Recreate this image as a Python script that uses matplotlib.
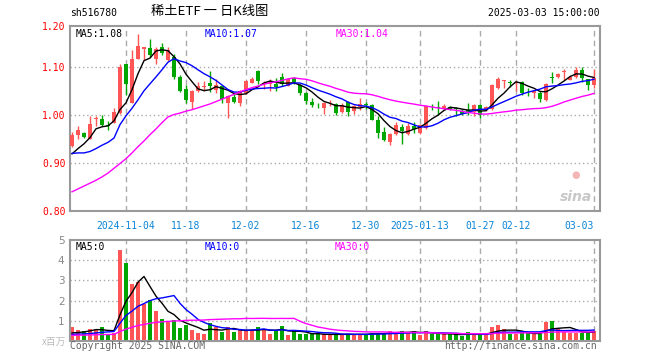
import numpy as np
import pandas as pd
import matplotlib
matplotlib.use("Agg")
import matplotlib.pyplot as plt

# ---- data ----
holidays = ['2025-01-01', '2025-01-28', '2025-01-29', '2025-01-30',
            '2025-01-31', '2025-02-03', '2025-02-04']
dates = pd.bdate_range('2024-10-22', '2025-03-03')
dates = dates[~dates.isin(pd.to_datetime(holidays))]

opens = [0.935, 0.959, 0.9625, 0.951, 0.992, 0.991, 0.980, 0.984, 1.004, 1.106,
         1.025, 1.117, 1.137, 1.140, 1.117, 1.142, 1.114, 1.121, 1.079, 1.055,
         1.027, 1.051, 1.058, 1.067, 1.053, 1.060, 1.024, 1.0375, 1.025, 1.046,
         1.067, 1.092, 1.064, 1.065, 1.065, 1.079, 1.060, 1.077, 1.062, 1.046,
         1.027, 1.0215, 1.015, 1.024, 1.022, 1.006, 1.027, 1.008, 1.017, 1.022,
         1.020, 0.989, 0.9645, 0.944, 0.961, 0.976, 0.961, 0.977, 0.9625, 0.973,
         1.016, 1.016, 1.012, 1.0167, 1.014, 1.0076, 1.0097, 1.006, 1.020, 1.0097,
         1.013, 1.056, 1.0715, 1.069, 1.067, 1.069, 1.047, 1.0465, 1.0465, 1.032,
         1.080, 1.079, 1.0896, 1.0736, 1.079, 1.093, 1.074, 1.063]
highs = [0.965, 0.978, 0.965, 0.997, 0.997, 1.001, 0.987, 1.015, 1.106, 1.106,
         1.136, 1.169, 1.142, 1.158, 1.142, 1.151, 1.142, 1.128, 1.084, 1.062,
         1.053, 1.069, 1.071, 1.092, 1.074, 1.062, 1.041, 1.044, 1.053, 1.072,
         1.079, 1.094, 1.071, 1.074, 1.078, 1.0875, 1.077, 1.079, 1.065, 1.048,
         1.036, 1.026, 1.027, 1.032, 1.025, 1.025, 1.029, 1.0215, 1.035, 1.027,
         1.022, 0.997, 0.976, 0.9625, 0.985, 0.982, 0.983, 0.985, 0.982, 1.0215,
         1.022, 1.029, 1.022, 1.019, 1.0167, 1.013, 1.025, 1.022, 1.022, 1.019,
         1.065, 1.079, 1.073, 1.072, 1.070, 1.070, 1.056, 1.053, 1.051, 1.067,
         1.0896, 1.0875, 1.095, 1.083, 1.100, 1.100, 1.076, 1.0965]
lows = [0.933, 0.951, 0.952, 0.949, 0.978, 0.977, 0.968, 0.983, 1.003, 1.041,
        1.024, 1.117, 1.114, 1.121, 1.107, 1.124, 1.112, 1.074, 1.047, 1.024,
        1.013, 1.048, 1.049, 1.048, 1.046, 1.025, 0.994, 1.024, 1.019, 1.044,
        1.067, 1.065, 1.055, 1.049, 1.051, 1.060, 1.060, 1.065, 1.042, 1.022,
        1.017, 1.015, 1.003, 1.018, 1.001, 1.004, 0.997, 1.003, 1.010, 1.013,
        0.989, 0.952, 0.945, 0.938, 0.958, 0.940, 0.959, 0.9625, 0.961, 0.9715,
        1.010, 1.001, 1.010, 1.010, 0.9986, 1.001, 0.999, 0.997, 0.994, 1.008,
        1.011, 1.055, 1.056, 1.058, 1.051, 1.042, 1.040, 1.036, 1.027, 1.029,
        1.067, 1.078, 1.072, 1.072, 1.078, 1.069, 1.053, 1.057]
closes = [0.959, 0.968, 0.954, 0.981, 0.994, 0.980, 0.978, 1.006, 1.099, 1.064,
          1.117, 1.144, 1.142, 1.126, 1.138, 1.129, 1.135, 1.079, 1.051, 1.031,
          1.051, 1.060, 1.061, 1.060, 1.063, 1.034, 1.040, 1.027, 1.049, 1.071,
          1.076, 1.071, 1.067, 1.069, 1.058, 1.065, 1.074, 1.069, 1.046, 1.029,
          1.0215, 1.020, 1.025, 1.026, 1.004, 1.0215, 1.006, 1.019, 1.022, 1.020,
          0.990, 0.9625, 0.947, 0.960, 0.9785, 0.967, 0.977, 0.970, 0.980, 1.019,
          1.015, 1.0146, 1.019, 1.0125, 1.0125, 1.003, 1.004, 1.020, 1.001, 1.0167,
          1.063, 1.074, 1.073, 1.067, 1.069, 1.0465, 1.046, 1.050, 1.034, 1.065,
          1.078, 1.085, 1.092, 1.080, 1.093, 1.077, 1.063, 1.078]
volumes = [0.70, 0.53, 0.48, 0.58, 0.53, 0.68, 0.35, 0.42, 4.50, 3.88,
           2.83, 2.93, 1.83, 2.03, 1.48, 1.08, 0.93, 1.02, 0.63, 0.80,
           0.53, 0.38, 0.33, 0.88, 0.68, 0.43, 0.68, 0.43, 0.53, 0.53,
           0.53, 0.68, 0.58, 0.35, 0.53, 0.75, 0.30, 0.48, 0.35, 0.33,
           0.33, 0.33, 0.33, 0.32, 0.33, 0.33, 0.33, 0.33, 0.33, 0.33,
           0.42, 0.42, 0.33, 0.48, 0.42, 0.48, 0.42, 0.48, 0.30, 0.48,
           0.33, 0.33, 0.33, 0.33, 0.33, 0.27, 0.43, 0.35, 0.30, 0.33,
           0.68, 0.78, 0.57, 0.33, 0.33, 0.45, 0.42, 0.33, 0.33, 0.93,
           0.98, 0.57, 0.45, 0.42, 0.42, 0.42, 0.42, 0.50]

# moving averages before enough history is visible
ma5_head = [0.919, 0.930, 0.940, 0.953]
ma10_head = [0.920, 0.921, 0.921, 0.924, 0.930, 0.937, 0.943, 0.952, 0.980]
ma30_head = [0.840, 0.846, 0.852, 0.858, 0.864, 0.871, 0.879, 0.889, 0.899, 0.909,
             0.921, 0.934, 0.946, 0.959, 0.971, 0.984, 0.996, 1.001, 1.004, 1.008,
             1.011, 1.015, 1.019, 1.023, 1.028, 1.033, 1.038, 1.043, 1.048]
vma5_head = [0.40, 0.42, 0.45, 0.50]
vma10_head = [0.33, 0.34, 0.35, 0.37, 0.40, 0.43, 0.45, 0.47, 0.88]
vma30_head = [0.28, 0.29, 0.29, 0.30, 0.31, 0.32, 0.32, 0.33, 0.47, 0.59,
              0.68, 0.77, 0.82, 0.88, 0.92, 0.95, 0.97, 0.99, 1.00, 1.02,
              1.03, 1.03, 1.04, 1.06, 1.07, 1.08, 1.09, 1.10, 1.10]

tick_dates = ['2024-11-04', '2024-11-18', '2024-12-02', '2024-12-16', '2024-12-30',
              '2025-01-13', '2025-01-27', '2025-02-12', '2025-03-03']
tick_labels = ['2024-11-04', '11-18', '12-02', '12-16', '12-30',
               '2025-01-13', '01-27', '02-12', '03-03']
price_ticks = [0.80, 0.90, 1.00, 1.10]
price_labels = ['0.80', '0.90', '1.00', '1.10', '1.20']
vol_ticks = [1, 2, 3, 4, 5]


def moving(vals, n, head):
    m = pd.Series(vals).rolling(n).mean().to_numpy()
    m[:n - 1] = head
    return m


RED = '#ff5555'
GREEN = '#00a600'
GRID = '#aaaaaa'
FRAME = '#999999'
MONO = 'DejaVu Sans Mono'
CJK = ['Noto Sans CJK SC', 'DejaVu Sans']

x = np.arange(len(closes))
o = np.array(opens)
c = np.array(closes)
up = c >= o
colors = np.where(up, RED, GREEN)
tick_pos = [dates.get_loc(pd.Timestamp(d)) for d in tick_dates]

W, H = 660, 360
fig = plt.figure(figsize=(W / 100, H / 100), dpi=100)
fig.patch.set_facecolor('white')


def box(l, t, r, b):
    return [l / W, 1 - b / H, (r - l) / W, (b - t) / H]


ax = fig.add_axes(box(70, 26, 600, 211))
vax = fig.add_axes(box(70, 240, 600, 341))

for a in (ax, vax):
    a.set_xlim(-1 / 3, 88)
    for s in a.spines.values():
        s.set_color(FRAME)
        s.set_linewidth(1.5)
    for p in tick_pos:
        a.axvline(p, color=GRID, lw=1, ls=(0, (4, 3)), zorder=0)
    a.tick_params(length=0)

# ---- price panel ----
ymax = 0.80 + 185 / 480
ax.set_ylim(0.80, ymax)
for yv in price_ticks[1:]:
    ax.axhline(yv, color=GRID, lw=1, ls=(0, (1, 2)), zorder=0)

ax.vlines(x, lows, highs, colors=colors, lw=1, zorder=2)
body = np.abs(c - o)
ax.bar(x, np.maximum(body, 0.0012), bottom=np.minimum(o, c) - np.where(body < 0.0012, 0.0006, 0),
       width=0.82, color=colors, lw=0, zorder=3)

ax.plot(x, moving(closes, 5, ma5_head), color='black', lw=1, zorder=4)
ax.plot(x, moving(closes, 10, ma10_head), color='#0000ff', lw=1, zorder=4)
ax.plot(x, moving(closes, 30, ma30_head), color='#ff00ff', lw=1, zorder=4)

ax.set_yticks(price_ticks + [ymax])
ax.set_yticklabels(price_labels, color='red', family=MONO, fontsize=7)
ax.tick_params(axis='y', pad=3)
ax.set_xticks(tick_pos)
ax.set_xticklabels(tick_labels, color='#0a84d6', family=MONO, fontsize=7)
ax.tick_params(axis='x', pad=7)
ax.get_xticklabels()[-1].set_ha('right')

ax.text(0.01, 0.985, 'MA5:1.08', transform=ax.transAxes, va='top', ha='left',
        family=MONO, fontsize=7, color='black')
ax.text((205 - 70) / 530, 0.985, 'MA10:1.07', transform=ax.transAxes, va='top',
        ha='left', family=MONO, fontsize=7, color='#0000ff')
ax.text((336 - 70) / 530, 0.985, 'MA30:1.04', transform=ax.transAxes, va='top',
        ha='left', family=MONO, fontsize=7, color='#ff00ff')
ax.text(0.985, 0.04, 'sina', transform=ax.transAxes, ha='right', va='bottom',
        fontsize=10, style='italic', weight='bold', color='#c8c8c8')
ax.text(0.955, 0.17, '●', transform=ax.transAxes, ha='center', va='bottom',
        fontsize=7, color='#f3b5b5')

# ---- volume panel ----
vax.set_ylim(0, 5)
for yv in vol_ticks[:-1]:
    vax.axhline(yv, color=GRID, lw=1, ls=(0, (1, 2)), zorder=0)
vax.bar(x, volumes, width=0.82, color=colors, lw=0, zorder=2)
vax.plot(x, moving(volumes, 5, vma5_head), color='black', lw=1, zorder=3)
vax.plot(x, moving(volumes, 10, vma10_head), color='#0000ff', lw=1, zorder=3)
vax.plot(x, moving(volumes, 30, vma30_head), color='#ff00ff', lw=1, zorder=3)
vax.set_yticks(vol_ticks)
vax.set_yticklabels([str(v) for v in vol_ticks], color='#888888', fontsize=7.5)
vax.tick_params(axis='y', pad=4)
vax.set_xticks([])

vax.text(0.01, 0.98, 'MA5:0', transform=vax.transAxes, va='top', ha='left',
         family=MONO, fontsize=7, color='black')
vax.text((205 - 70) / 530, 0.98, 'MA10:0', transform=vax.transAxes, va='top',
         ha='left', family=MONO, fontsize=7, color='#0000ff')
vax.text((335 - 70) / 530, 0.98, 'MA30:0', transform=vax.transAxes, va='top',
         ha='left', family=MONO, fontsize=7, color='#ff00ff')

# ---- header / footer texts ----
fig.text(70 / W, 1 - 13 / H, 'sh516780', family=MONO, fontsize=7, va='center', ha='left')
fig.text(210 / W, 1 - 12 / H, '稀土ETF 一 日K线图', family=CJK,
         fontsize=9.5, va='center', ha='center')
fig.text(600 / W, 1 - 13 / H, '2025-03-03 15:00:00', family=MONO, fontsize=7,
         va='center', ha='right')
fig.text(66 / W, 1 - 342 / H, 'x百万', family=CJK,
         fontsize=7, color='#bbbbbb', va='center', ha='right')
fig.text(70 / W, 1 - 346 / H, 'Copyright 2025 SINA.COM', family=MONO, fontsize=7,
         color='#666666', va='center', ha='left')
fig.text(597 / W, 1 - 346 / H, 'http://finance.sina.com.cn', family=MONO, fontsize=7,
         color='#666666', va='center', ha='right')

fig.savefig('out.png', dpi=100)
